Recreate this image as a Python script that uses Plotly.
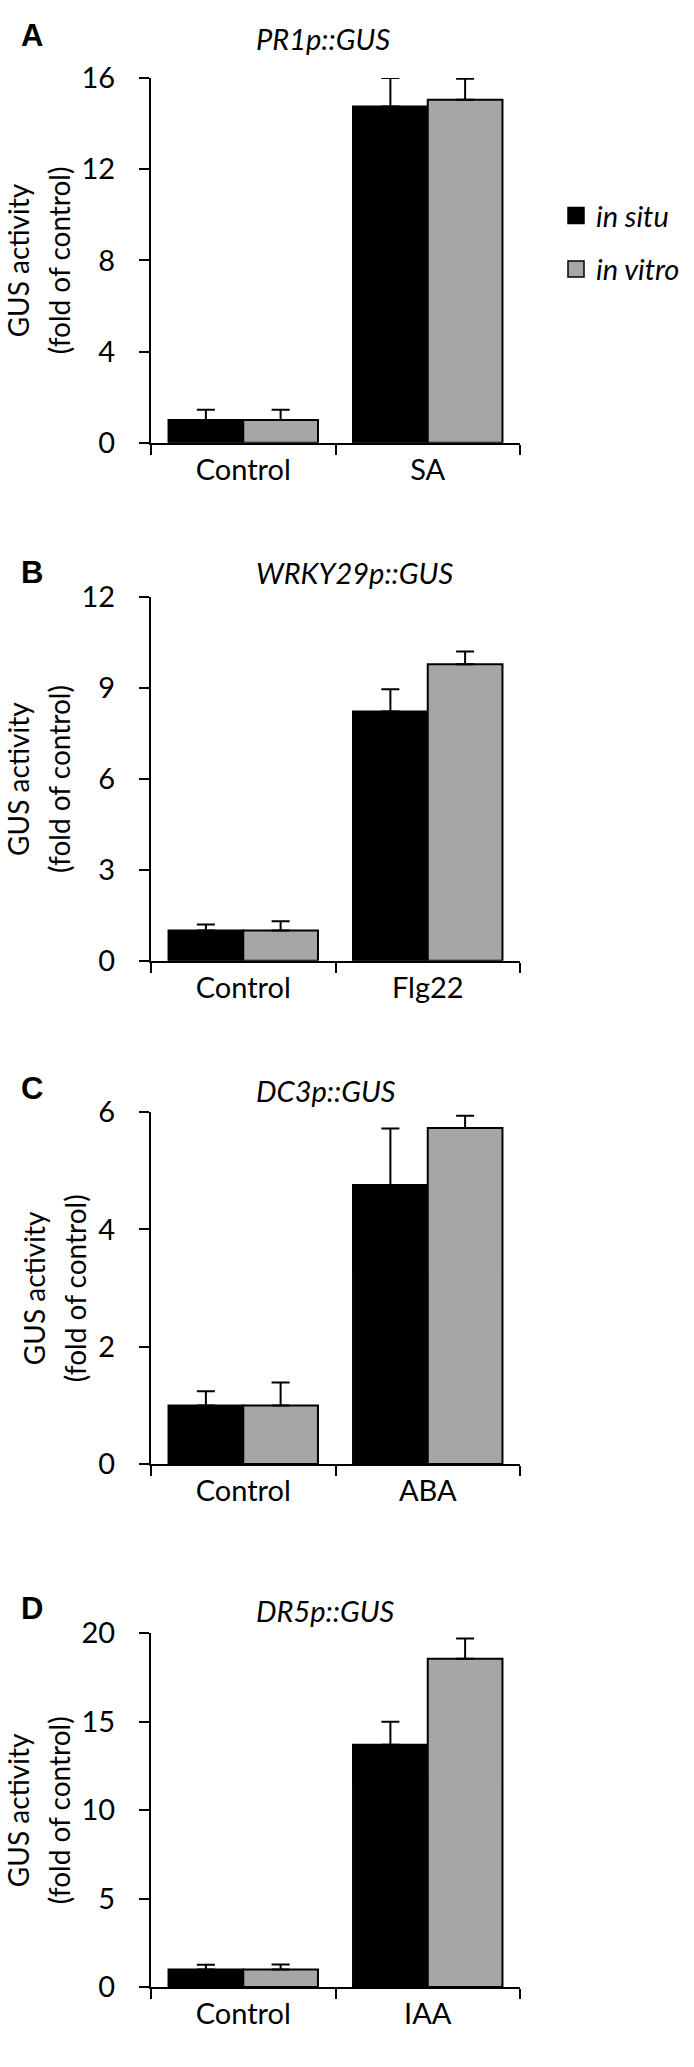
import plotly.graph_objects as go

W, H = 694, 2067

# ---- data ----
panel_letters = ["A", "B", "C", "D"]
panel_titles = ["PR1p::GUS", "WRKY29p::GUS", "DC3p::GUS", "DR5p::GUS"]
treatments = ["SA", "Flg22", "ABA", "IAA"]
control_label = "Control"
series_names = ["in situ", "in vitro"]

insitu_A = [1.0, 14.75]
invitro_A = [1.0, 15.05]
insitu_err_A = [0.45, 1.25]
invitro_err_A = [0.45, 0.92]

insitu_B = [1.0, 8.22]
invitro_B = [1.0, 9.78]
insitu_err_B = [0.2, 0.74]
invitro_err_B = [0.3, 0.42]

insitu_C = [1.0, 4.76]
invitro_C = [1.0, 5.73]
insitu_err_C = [0.24, 0.96]
invitro_err_C = [0.39, 0.21]

insitu_D = [1.0, 13.7]
invitro_D = [1.0, 18.55]
insitu_err_D = [0.26, 1.3]
invitro_err_D = [0.28, 1.15]

yticks_A = [0, 4, 8, 12, 16]
yticks_B = [0, 3, 6, 9, 12]
yticks_C = [0, 2, 4, 6]
yticks_D = [0, 5, 10, 15, 20]

insitu = [insitu_A, insitu_B, insitu_C, insitu_D]
invitro = [invitro_A, invitro_B, invitro_C, invitro_D]
insitu_err = [insitu_err_A, insitu_err_B, insitu_err_C, insitu_err_D]
invitro_err = [invitro_err_A, invitro_err_B, invitro_err_C, invitro_err_D]
yticks = [yticks_A, yticks_B, yticks_C, yticks_D]

# ---- style / layout ----
BLACK = "#000000"
GRAY = "#A6A6A6"
FONT = "Lato"
TICK_SIZE = 29

def px_x(p):
    return p / W

def px_y(p):
    return 1 - p / H

x_left, x_right = 151, 520
y_spans = [(60, 431), (588, 958), (1112, 1470), (1642, 2002)]
letter_y = [17, 563, 1088, 1617]
title_y = [20, 563, 1090, 1619]
ytitle_x = [(18, 59), (18, 59), (34, 75), (18, 59)]

fig = go.Figure()
layout = dict(
    width=W, height=H,
    margin=dict(l=0, r=0, t=0, b=0),
    paper_bgcolor="white", plot_bgcolor="white",
    barmode="group", bargap=0.19, bargroupgap=0,
    font=dict(family=FONT, color=BLACK, size=TICK_SIZE),
    showlegend=True,
    legend=dict(
        x=px_x(556), y=px_y(174), xanchor="left", yanchor="top",
        font=dict(family=FONT, size=29, style="italic", color=BLACK),
        tracegroupgap=13, bgcolor="rgba(0,0,0,0)",
    ),
)
annotations = []

for i in range(4):
    n = i + 1
    xa = "x" if n == 1 else f"x{n}"
    ya = "y" if n == 1 else f"y{n}"
    cats = [control_label, treatments[i]]
    for s, (vals, errs, col) in enumerate(
        [(insitu[i], insitu_err[i], BLACK), (invitro[i], invitro_err[i], GRAY)]
    ):
        fig.add_trace(go.Bar(
            x=cats, y=vals, xaxis=xa, yaxis=ya,
            name=series_names[s], showlegend=False,
            marker=dict(color=col, line=dict(color=BLACK, width=2)),
            error_y=dict(type="data", array=errs, arrayminus=[0] * len(errs),
                         symmetric=False, color=BLACK, thickness=2, width=9),
        ))
    top, bot = y_spans[i]
    layout[f"xaxis{n}"] = dict(
        domain=[px_x(x_left), px_x(x_right)], anchor=ya,
        type="category", tickson="boundaries", ticks="outside", ticklen=10,
        tickwidth=2, tickcolor=BLACK, showline=True, linecolor=BLACK, linewidth=2,
        showgrid=False, zeroline=False, tickfont=dict(size=TICK_SIZE),
        ticklabelstandoff=0, fixedrange=True,
    )
    layout[f"yaxis{n}"] = dict(
        domain=[px_y(bot), px_y(top)], anchor=xa,
        range=[0, yticks[i][-1]], tickvals=yticks[i], ticks="outside", ticklen=10,
        tickwidth=2, tickcolor=BLACK, showline=True, linecolor=BLACK, linewidth=2,
        showgrid=False, zeroline=False, tickfont=dict(size=TICK_SIZE),
        ticklabelstandoff=18, fixedrange=True,
    )
    annotations.append(dict(
        text=f"<b>{panel_letters[i]}</b>", x=px_x(32), y=px_y(letter_y[i]),
        xref="paper", yref="paper", showarrow=False, xanchor="center", yanchor="middle",
        font=dict(family="Liberation Sans", size=31, color=BLACK),
    ))
    annotations.append(dict(
        text=panel_titles[i], x=px_x(254), y=px_y(title_y[i]),
        xref="paper", yref="paper", showarrow=False, xanchor="left", yanchor="middle",
        font=dict(family=FONT, size=29, style="italic", color=BLACK),
    ))
    x1, x2 = ytitle_x[i]
    yc = (top + bot) / 2
    for txt, xx in [("GUS activity", x1), ("(fold of control)", x2)]:
        annotations.append(dict(
            text=txt, x=px_x(xx), y=px_y(yc), textangle=-90,
            xref="paper", yref="paper", showarrow=False, xanchor="center", yanchor="middle",
            font=dict(family=FONT, size=28, color=BLACK),
        ))

# legend entries (panel A)
for s, col in enumerate([BLACK, GRAY]):
    fig.add_trace(go.Scatter(
        x=[None], y=[None], mode="markers", name=series_names[s],
        legendgroup=series_names[s],
        marker=dict(symbol="square", size=16, color=col, line=dict(color=BLACK, width=1.5)),
        showlegend=True,
    ))

layout["annotations"] = annotations
fig.update_layout(**layout)
fig.write_html("out.html", config={"displayModeBar": False},
               post_script="document.body.style.margin='0';")
